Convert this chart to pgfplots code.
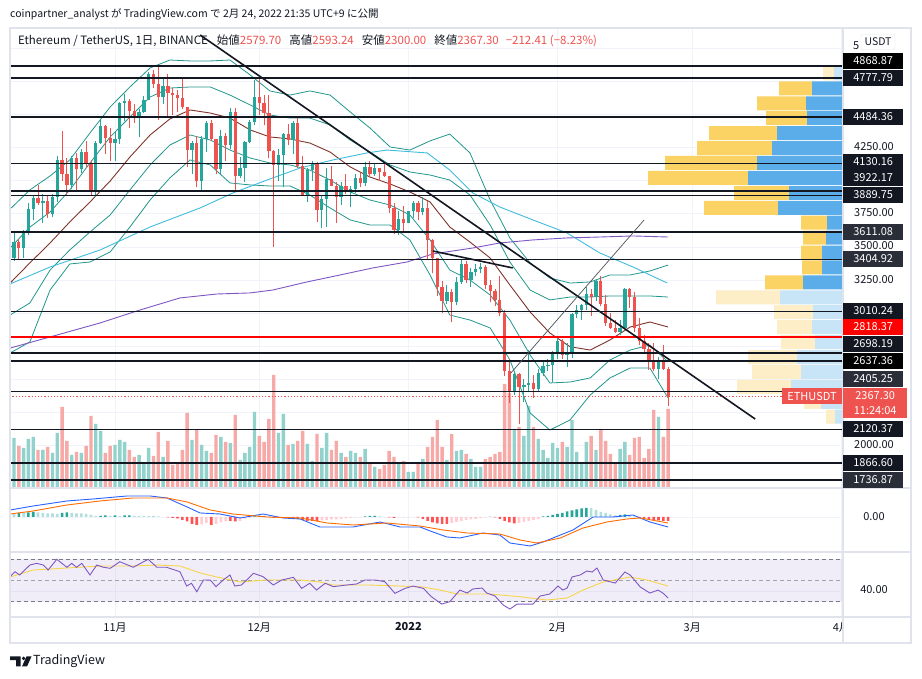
\documentclass[border=0pt]{standalone}
\usepackage{pgfplots}
\pgfplotsset{compat=1.18}
\usepackage{pgfplotstable}
\usepgfplotslibrary{fillbetween}
\usepackage{fontspec}
\setmainfont{Noto Sans CJK JP}
\definecolor{tvg}{RGB}{38,166,154}
\definecolor{tvr}{RGB}{239,83,80}
\definecolor{volg}{RGB}{146,210,204}
\definecolor{volr}{RGB}{247,169,168}
\definecolor{tvdark}{RGB}{19,23,34}
\definecolor{tvdark2}{RGB}{42,46,57}
\definecolor{gridc}{RGB}{240,243,250}
\definecolor{framec}{RGB}{224,227,235}
\definecolor{bbline}{RGB}{34,150,140}
\definecolor{bbmid}{RGB}{128,52,42}
\definecolor{macyan}{RGB}{64,188,222}
\definecolor{mapurple}{RGB}{126,87,194}
\definecolor{vpy}{RGB}{251,211,100}
\definecolor{vpb}{RGB}{91,173,234}
\definecolor{vpyl}{RGB}{253,238,199}
\definecolor{vpbl}{RGB}{200,228,247}
\definecolor{macdb}{RGB}{41,98,255}
\definecolor{macdo}{RGB}{255,109,0}
\definecolor{hdg}{RGB}{38,166,154}
\definecolor{hlg}{RGB}{178,223,219}
\definecolor{hdr}{RGB}{255,82,82}
\definecolor{hlr}{RGB}{255,205,210}
\definecolor{rsima}{RGB}{247,213,74}
\definecolor{dashc}{RGB}{120,123,134}

\pgfplotstableread{
d o h l c v
-21 3415 3610 3390 3541 500
-19 3491 3630 3420 3605 400
-18 3605 3830 3590 3788 490
-17 3788 3890 3700 3868 510
-15 3830 3900 3680 3847 380
-13 3747 3900 3725 3877 350
-12 3877 4190 3840 4154 550
-9 3972 4190 3940 4170 330
-7 4086 4240 4060 4217 350
-4 3923 4300 3880 4287 640
-3 4287 4460 4280 4415 570
0 4288 4380 4150 4319 430
1 4319 4600 4280 4586 480
2 4586 4660 4450 4604 460
5 4476 4540 4330 4518 330
6 4518 4640 4510 4612 250
7 4612 4825 4610 4806 400
10 4633 4780 4580 4721 310
16 4235 4300 4050 4284 480
18 3996 4340 3920 4316 430
19 4316 4450 4220 4434 370
22 4088 4385 4050 4339 510
24 4272 4550 4240 4522 450
26 4040 4180 4020 4097 280
27 4097 4300 3990 4291 350
28 4291 4460 4290 4443 410
29 4443 4760 4420 4631 760
34 4121 4240 4000 4196 550
35 4196 4360 3950 4353 740
37 4308 4450 4200 4436 440
40 3895 4100 3840 4079 440
41 4079 4150 4000 4132 270
43 3783 3885 3640 3860 400
44 3860 4095 3650 4015 550
47 3876 3990 3820 3960 350
49 3923 3960 3800 3941 370
50 3941 4050 3910 4020 350
52 3980 4140 3960 4108 390
54 4048 4130 4040 4096 210
59 3627 3770 3590 3712 250
61 3682 3770 3680 3769 160
62 3769 3850 3720 3829 160
64 3761 3880 3740 3794 290
69 3091 3210 3070 3157 280
71 3083 3270 3060 3238 370
72 3238 3410 3220 3372 380
74 3248 3340 3200 3310 290
75 3310 3370 3280 3330 210
76 3330 3380 3300 3350 210
83 2405 2560 2380 2539 590
85 2441 2500 2330 2459 520
86 2459 2724 2400 2467 820
88 2426 2580 2400 2548 490
89 2548 2630 2520 2602 380
90 2602 2650 2560 2606 300
91 2606 2710 2480 2688 450
92 2688 2810 2650 2790 400
94 2683 2770 2590 2698 410
95 2698 3000 2660 2990 680
96 2990 3060 2960 3024 360
97 3024 3070 2950 3059 250
98 3059 3200 3020 3144 460
100 3124 3260 3090 3243 380
105 2860 2950 2830 2890 390
106 2890 3190 2880 3182 460
113 2575 2670 2500 2640 710
}\upT

\pgfplotstableread{
d o h l c v
-20 3541 3560 3410 3491 420
-16 3868 3965 3820 3830 380
-14 3847 3890 3720 3747 410
-11 4154 4375 4000 4055 810
-10 4055 4170 3890 3972 470
-8 4170 4210 3930 4086 360
-6 4217 4300 4100 4131 420
-5 4131 4155 3890 3923 720
-2 4415 4420 4200 4324 350
-1 4324 4400 4150 4288 420
3 4604 4620 4400 4531 380
4 4531 4580 4440 4476 310
8 4806 4838 4700 4733 320
9 4733 4868.87 4460 4633 560
11 4721 4810 4490 4666 470
12 4666 4700 4500 4647 230
13 4647 4690 4520 4626 250
14 4626 4770 4540 4555 380
15 4555 4556 4106 4235 750
17 4284 4340 3950 3996 590
20 4434 4460 4300 4316 350
21 4316 4320 4050 4088 530
23 4339 4360 4150 4272 460
25 4522 4550 3920 4040 730
30 4631 4777.79 4500 4586 520
31 4586 4650 4420 4512 460
32 4512 4650 4170 4226 690
33 4226 4230 3500 4121 1130
36 4353 4430 4270 4308 430
38 4436 4490 4100 4111 470
39 4111 4190 3885 3895 570
42 4132 4140 3690 3783 540
45 4015 4110 3960 3961 380
46 3961 3990 3680 3876 470
48 3960 4050 3900 3923 310
51 4020 4060 3950 3980 310
53 4108 4150 4030 4048 240
55 4096 4100 4000 4064 190
56 4064 4130 4030 4037 230
57 4037 4040 3760 3794 370
58 3794 3830 3600 3627 310
60 3712 3810 3620 3682 270
63 3829 3850 3700 3761 240
65 3794 3850 3400 3550 410
66 3550 3560 3300 3417 510
67 3417 3420 3130 3194 680
68 3194 3240 3000 3091 410
70 3157 3180 2930 3083 540
73 3372 3390 3230 3248 340
77 3350 3360 3180 3212 290
78 3212 3250 3080 3163 310
79 3163 3180 3050 3095 340
80 3095 3280 2980 3000 360
81 3000 3020 2520 2562 1040
82 2562 2650 2320 2405 950
84 2539 2550 2159 2441 610
87 2467 2530 2360 2426 610
93 2790 2800 2650 2683 460
99 3144 3180 2980 3124 520
101 3243 3280 3050 3070 590
102 3070 3140 2900 2925 470
103 2925 3000 2880 2890 340
104 2890 2950 2850 2860 250
107 3182 3190 3040 3123 330
108 3123 3160 2860 2889 500
109 2889 2960 2760 2787 510
110 2787 2830 2700 2730 300
111 2730 2770 2570 2627 390
112 2627 2770 2560 2575 780
114 2640 2760 2570 2579.70 510
115 2579.70 2593.24 2300 2367.30 790
}\dnT

\pgfplotstableread{
p sb sy lb ly
4812.4 0 0 9 11
4699.5 31 33 0 0
4586.6 37 49 0 0
4473.7 36 41 0 0
4360.8 66 68 0 0
4247.9 71 75 0 0
4135.0 86 92 0 0
4022.1 95 100 0 0
3909.2 54 55 0 0
3796.3 65 74 0 0
3683.4 16 26 0 0
3570.5 17 23 0 0
3457.6 21 21 0 0
3344.7 21 20 0 0
3231.8 40 38 0 0
3118.9 0 0 63 64
3006.0 0 0 30 39
2893.1 0 0 31 35
2780.2 0 0 28 34
2667.3 0 0 46 49
2554.4 0 0 42 49
2441.5 0 0 52 54
2328.6 0 0 22 17
2215.7 0 0 8 9
}\vpT

\pgfplotsset{tvbase/.style={scale only axis, anchor=south west, width=833pt, xmin=-21.83, xmax=151.35},
 candle/.style={only marks, mark=*, mark size=0pt, mark options={draw=none, fill=none}}}
\tikzset{plab/.style={fill=tvdark, text=white, minimum width=60pt, minimum height=16pt, inner sep=0pt, font=\fontsize{11}{12}\selectfont, anchor=west},
 nlab/.style={text=tvdark, inner sep=0pt, font=\fontsize{11}{12}\selectfont}}

\begin{document}
\begin{tikzpicture}[x=1pt,y=1pt]
\fill[white] (0,0) rectangle (922,679);
% grid
\begin{axis}[tvbase, at={(10pt,191pt)}, height=460pt, ymin=1676.4, ymax=5156.3,
  xtick={0,30,61,92,120,151}, ytick={2000,2250,...,5000},
  xticklabel=\empty, yticklabel=\empty, tick style={draw=none},
  axis line style={draw=none}, grid=major, grid style={gridc, line width=0.8pt}]
\addplot[draw=none] coordinates {(0,3000)};
\end{axis}
% volume profile
\begin{axis}[at={(10pt,191pt)}, scale only axis, anchor=south west, width=833pt, height=460pt,
  xmin=0, xmax=833, x dir=reverse, ymin=1676.4, ymax=5156.3, hide axis, xbar stacked, bar width=14pt]
\addplot[fill=vpb, draw=none] table[x=sb, y=p]{\vpT};
\addplot[fill=vpy, draw=none] table[x=sy, y=p]{\vpT};
\addplot[fill=vpbl, draw=none] table[x=lb, y=p]{\vpT};
\addplot[fill=vpyl, draw=none] table[x=ly, y=p]{\vpT};
\end{axis}
% volume
\begin{axis}[tvbase, at={(10pt,191pt)}, height=460pt, ymin=0, ymax=4600, hide axis]
\addplot[ybar, bar width=3.4pt, bar shift=0pt, fill=volg, draw=none] table[x=d, y=v]{\upT};
\addplot[ybar, bar width=3.4pt, bar shift=0pt, fill=volr, draw=none] table[x=d, y=v]{\dnT};
\end{axis}
% price
\begin{axis}[tvbase, at={(10pt,191pt)}, height=460pt, ymin=1676.4, ymax=5156.3, hide axis, clip=true]
\addplot[name path=OU, bbline, line width=0.8pt] coordinates {(-21.8,3787) (-17.7,3931) (-13.5,4037) (-9.4,4158) (-5.2,4362) (-1.0,4559) (3.1,4710) (7.3,4854) (11.4,4914) (15.6,4907) (19.8,4907) (23.9,4914) (28.1,4801) (32.2,4680) (36.4,4649) (40.5,4680) (44.7,4649) (48.9,4521) (53.0,4400) (57.2,4256) (61.3,4233) (65.5,4302) (69.6,4354) (73.8,4211) (78.0,3855) (82.1,3568) (86.3,3379) (90.4,3265) (94.6,3227) (98.8,3235) (102.9,3288) (107.1,3288) (111.2,3318) (115.0,3363)};
\addplot[name path=IU, bbline, line width=0.8pt] coordinates {(-21.8,3492) (-17.7,3650) (-13.5,3764) (-9.4,3931) (-5.2,4135) (-1.0,4332) (3.1,4483) (7.3,4634) (11.4,4702) (15.6,4710) (19.8,4710) (23.9,4649) (28.1,4574) (32.2,4498) (36.4,4475) (40.5,4475) (44.7,4423) (48.9,4309) (53.0,4218) (57.2,4120) (61.3,4067) (65.5,4044) (69.6,4006) (73.8,3893) (78.0,3666) (82.1,3386) (86.3,3174) (90.4,3099) (94.6,3121) (98.8,3121) (102.9,3129) (107.1,3129) (111.2,3129) (115.0,3121)};
\addplot[name path=IL, bbline, line width=0.8pt] coordinates {(-21.8,2985) (-17.7,3076) (-13.5,3325) (-9.4,3477) (-5.2,3613) (-1.0,3742) (3.1,3931) (7.3,4120) (11.4,4271) (15.6,4347) (19.8,4309) (23.9,4233) (28.1,4173) (32.2,4135) (36.4,4120) (40.5,4082) (44.7,4006) (48.9,3916) (53.0,3855) (57.2,3817) (61.3,3742) (65.5,3553) (69.6,3325) (73.8,3250) (78.0,3136) (82.1,2947) (86.3,2683) (90.4,2471) (94.6,2478) (98.8,2509) (102.9,2645) (107.1,2720) (111.2,2758) (115.0,2629)};
\addplot[name path=OL, bbline, line width=0.8pt] coordinates {(-21.8,2698) (-17.7,2781) (-13.5,3174) (-9.4,3371) (-5.2,3386) (-1.0,3462) (3.1,3651) (7.3,3855) (11.4,4022) (15.6,4158) (19.8,4120) (23.9,3984) (28.1,3969) (32.2,3961) (36.4,3961) (40.5,3893) (44.7,3795) (48.9,3704) (53.0,3666) (57.2,3666) (61.3,3553) (65.5,3288) (69.6,2985) (73.8,2947) (78.0,2887) (82.1,2645) (86.3,2244) (90.4,2115) (94.6,2191) (98.8,2380) (102.9,2509) (107.1,2584) (111.2,2584) (115.0,2357)};
\addplot[fill=tvg, fill opacity=0.06, draw=none] fill between[of=OU and OL];
\addplot[fill=tvg, fill opacity=0.06, draw=none] fill between[of=IU and IL];
\addplot[bbmid, line width=0.9pt] coordinates {(-21.8,3227) (-17.7,3379) (-13.5,3530) (-9.4,3689) (-5.2,3840) (-1.0,3999) (3.1,4180) (7.3,4347) (11.4,4468) (15.6,4536) (19.8,4513) (23.9,4475) (28.1,4385) (32.2,4332) (36.4,4317) (40.5,4286) (44.7,4218) (48.9,4105) (53.0,4029) (57.2,3976) (61.3,3916) (65.5,3840) (69.6,3651) (73.8,3537) (78.0,3416) (82.1,3212) (86.3,3008) (90.4,2849) (94.6,2745) (98.8,2720) (102.9,2796) (107.1,2894) (111.2,2932) (115.0,2894)};
\addplot[macyan, line width=0.9pt] coordinates {(-21.8,3220) (-13.5,3348) (-3.1,3477) (7.3,3651) (17.7,3795) (24.5,3908) (31.6,4006) (38.5,4097) (45.3,4158) (52.4,4211) (56.5,4233) (64.9,4211) (69.6,4082) (74.4,3908) (80.0,3802) (86.9,3704) (94.0,3605) (100.8,3454) (107.7,3348) (114.8,3227)};
\addplot[mapurple, line width=0.9pt] coordinates {(-21.8,2735) (-13.5,2819) (-3.1,2925) (5.2,3023) (13.5,3114) (21.2,3144) (28.1,3152) (32.8,3174) (39.9,3235) (46.8,3288) (53.6,3341) (60.7,3386) (66.1,3447) (74.4,3492) (80.0,3530) (86.9,3553) (94.0,3568) (100.8,3575) (107.7,3583) (115,3575)};
% candles
\addplot[candle, error bars/.cd, y dir=plus, y explicit, error mark=none, error bar style={draw=tvg, line width=0.9pt}] table[x=d, y=l, y error plus expr=\thisrow{h}-\thisrow{l}]{\upT};
\addplot[candle, error bars/.cd, y dir=plus, y explicit, error mark=none, error bar style={draw=tvr, line width=0.9pt}] table[x=d, y=l, y error plus expr=\thisrow{h}-\thisrow{l}]{\dnT};
\addplot[candle, error bars/.cd, y dir=plus, y explicit, error mark=none, error bar style={draw=tvg, line width=3.3pt}] table[x=d, y=o, y error plus expr=\thisrow{c}-\thisrow{o}]{\upT};
\addplot[candle, error bars/.cd, y dir=plus, y explicit, error mark=none, error bar style={draw=tvr, line width=3.3pt}] table[x=d, y=c, y error plus expr=\thisrow{o}-\thisrow{c}]{\dnT};
% horizontal levels
\addplot[tvdark, line width=1.6pt] coordinates {(-22,4868.87) (152,4868.87)};
\addplot[tvdark, line width=1.6pt] coordinates {(-22,4777.79) (152,4777.79)};
\addplot[tvdark, line width=1.6pt] coordinates {(-22,4484.36) (152,4484.36)};
\addplot[tvdark, line width=1.6pt] coordinates {(-22,4130.16) (152,4130.16)};
\addplot[tvdark, line width=1.6pt] coordinates {(-22,3922.17) (152,3922.17)};
\addplot[tvdark, line width=1.6pt] coordinates {(-22,3889.75) (152,3889.75)};
\addplot[tvdark, line width=1.6pt] coordinates {(-22,3611.08) (152,3611.08)};
\addplot[tvdark, line width=1.6pt] coordinates {(-22,3404.92) (152,3404.92)};
\addplot[tvdark, line width=1.6pt] coordinates {(-22,3010.24) (152,3010.24)};
\addplot[red, line width=1.8pt] coordinates {(-22,2818.37) (152,2818.37)};
\addplot[tvdark, line width=1.6pt] coordinates {(-22,2698.19) (152,2698.19)};
\addplot[tvdark, line width=1.6pt] coordinates {(-22,2637.36) (152,2637.36)};
\addplot[tvdark, line width=1.6pt] coordinates {(-22,2405.25) (152,2405.25)};
\addplot[tvdark, line width=1.6pt] coordinates {(-22,2120.37) (152,2120.37)};
\addplot[tvdark, line width=1.6pt] coordinates {(-22,1866.60) (152,1866.60)};
\addplot[tvdark, line width=1.6pt] coordinates {(-22,1736.87) (152,1736.87)};
\addplot[tvr, line width=0.8pt, dash pattern=on 1.2pt off 2pt] coordinates {(-22,2367.30) (152,2367.30)};
% trend lines
\addplot[tvdark, line width=1.6pt] coordinates {(17.7,5103) (133.1,2198)};
\addplot[tvdark, line width=1.6pt] coordinates {(66.1,3469) (82.7,3341)};
\addplot[tvdark!75, line width=0.7pt] coordinates {(82.3,2546) (110,3704)};
\end{axis}
% MACD
\begin{axis}[tvbase, at={(10pt,127pt)}, height=64pt, ymin=-350, ymax=290,
  xtick={0,30,61,92,120,151}, ytick={0}, xticklabel=\empty, yticklabel=\empty, tick style={draw=none},
  axis line style={draw=none}, grid=major, grid style={gridc, line width=0.8pt}]
\addplot[ybar, bar width=2.6pt, bar shift=0pt, fill=hdg, draw=none] coordinates {(-20,40) (-18,45) (-17,50) (-11,40) (-10,45) (-3,10) (-2,15) (0,15) (2,15) (3,15) (29,5) (30,10) (31,10) (52,5) (53,10) (54,10) (89,5) (90,10) (91,20) (92,30) (93,40) (94,55) (95,65) (96,75) (97,85) (98,90) (105,20) (106,25)};
\addplot[ybar, bar width=2.6pt, bar shift=0pt, fill=hlg, draw=none] coordinates {(-21,35) (-19,40) (-16,45) (-15,40) (-14,35) (-13,35) (-12,30) (-9,40) (-8,35) (-7,35) (-6,30) (-5,20) (-4,10) (-1,12) (1,12) (4,12) (5,10) (6,10) (7,8) (8,10) (9,5) (10,2) (32,5) (55,5) (56,2) (78,5) (99,90) (100,70) (101,50) (102,40) (103,25) (104,15) (107,15) (108,5)};
\addplot[ybar, bar width=2.6pt, bar shift=0pt, fill=hdr, draw=none] coordinates {(11,-5) (12,-10) (13,-15) (14,-30) (15,-45) (16,-70) (17,-80) (20,-80) (24,-40) (25,-45) (33,-10) (37,-10) (38,-20) (39,-30) (40,-40) (41,-40) (42,-40) (57,-5) (58,-10) (63,-5) (64,-20) (65,-40) (66,-55) (67,-65) (68,-70) (69,-70) (79,-5) (80,-20) (81,-40) (82,-55) (83,-65) (109,-10) (110,-15) (111,-25) (112,-30) (113,-35) (114,-40) (115,-40)};
\addplot[ybar, bar width=2.6pt, bar shift=0pt, fill=hlr, draw=none] coordinates {(18,-75) (19,-60) (21,-70) (22,-55) (23,-45) (26,-40) (27,-20) (28,-10) (34,-10) (35,-5) (36,-5) (43,-35) (44,-30) (45,-25) (46,-25) (47,-20) (48,-15) (49,-10) (50,-5) (51,-3) (59,-5) (60,-3) (61,-3) (62,-2) (70,-60) (71,-50) (72,-40) (73,-30) (74,-25) (75,-20) (76,-10) (77,-5) (84,-60) (85,-50) (86,-40) (87,-30) (88,-20)};
\addplot[macdb, line width=0.9pt] coordinates {(-21.8,70) (-17.0,110) (-10.0,160) (-4.6,180) (2.5,210) (7.3,210) (10.8,190) (15.0,100) (17.7,40) (21.8,30) (26.0,-10) (30.8,30) (34.9,-10) (38.5,-20) (42.6,-100) (45.3,-100) (49.5,-100) (55.1,-50) (59.3,-100) (63.4,-100) (66.1,-150) (69.0,-200) (71.7,-210) (76.5,-160) (80.0,-180) (82.1,-260) (86.3,-290) (89.0,-250) (92.6,-180) (95.2,-130) (99.4,0) (103.5,0) (107.7,20) (111.2,-50) (115,-100)};
\addplot[macdo, line width=0.9pt] coordinates {(-21.8,30) (-17.0,60) (-10.0,120) (-3.1,160) (3.7,190) (10.8,190) (15.0,150) (19.8,70) (24.5,30) (31.6,0) (38.5,-10) (44.1,-60) (49.5,-80) (56.5,-60) (63.4,-90) (68.2,-130) (73.2,-160) (80.0,-170) (84.2,-230) (87.7,-260) (92.6,-210) (97.3,-110) (102.3,-50) (106.4,-20) (109.2,-10) (115,-60)};
\end{axis}
% RSI
\begin{axis}[tvbase, at={(10pt,62pt)}, height=65pt, ymin=15.6, ymax=76.9,
  xtick={0,30,61,92,120,151}, xticklabels={11月,12月,\textbf{2022},2月,3月,4月},
  ytick={40}, yticklabel=\empty, tick style={draw=none},
  xticklabel style={font=\fontsize{11}{13}\selectfont, text=tvdark, yshift=-2pt},
  axis line style={draw=none}, grid=major, grid style={gridc, line width=0.8pt}]
\addplot[fill=mapurple, fill opacity=0.1, draw=none] coordinates {(-21.83,30) (151.35,30) (151.35,70) (-21.83,70)};
\addplot[dashc, line width=0.8pt, dash pattern=on 4pt off 3pt] coordinates {(-21.83,70) (151.35,70)};
\addplot[dashc!70, line width=0.8pt, dash pattern=on 4pt off 3pt] coordinates {(-21.83,50) (151.35,50)};
\addplot[dashc, line width=0.8pt, dash pattern=on 4pt off 3pt] coordinates {(-21.83,30) (151.35,30)};
\addplot[rsima, line width=0.9pt] coordinates {(-21.8,53.3) (-17.0,59.9) (-10.0,61.8) (-3.1,63.7) (3.7,63.7) (8.7,64.6) (13.5,63.7) (17.7,57.1) (21.2,53.3) (26.0,48.6) (31.6,50.5) (38.5,50.5) (42.6,48.6) (45.3,45.8) (52.4,45.8) (59.3,44.8) (64.0,43.9) (67.6,41.0) (71.1,37.3) (78.0,37.3) (84.8,34.4) (89.8,31.6) (94.0,33.5) (97.3,41.0) (101.5,48.6) (107.1,53.3) (110.6,50.5) (115.0,44.8)};
\addplot[mapurple, line width=0.9pt] coordinates {(-21.8,53.6) (-20.8,58.3) (-19.8,55.2) (-17.7,64.6) (-16.3,66.2) (-14.9,64.6) (-13.9,59.9) (-12.1,70.0) (-10.0,62.5) (-9.0,66.2) (-8.0,62.5) (-6.9,66.2) (-5.2,55.2) (-3.8,64.6) (-2.4,62.5) (-1.0,61.5) (1.0,67.7) (3.8,62.5) (6.9,70.0) (8.7,62.5) (10.7,62.5) (13.5,58.3) (14.9,44.8) (15.9,47.4) (17.0,39.4) (18.4,50.5) (19.8,50.5) (21.0,44.2) (22.5,50.5) (23.9,55.2) (24.9,44.8) (26.3,45.8) (28.8,56.8) (30.8,53.6) (32.9,45.8) (34.7,50.5) (37.1,53.0) (38.8,42.6) (40.5,47.4) (41.9,41.0) (43.7,47.4) (45.4,44.2) (48.2,45.8) (50.2,46.7) (52.0,50.5) (54.1,50.5) (56.1,48.9) (58.2,37.9) (60.3,42.6) (62.0,44.8) (64.1,42.6) (65.8,34.7) (67.9,27.8) (69.6,30.0) (71.7,41.0) (73.2,38.2) (74.4,42.0) (76.3,42.9) (77.3,38.2) (79.0,35.4) (80.7,26.9) (82.1,23.1) (83.6,27.8) (86.9,27.8) (88.4,35.4) (90.4,37.3) (92.1,44.8) (93.1,41.0) (94.0,42.9) (95.0,53.3) (96.7,55.2) (98.1,59.0) (99.2,58.0) (100.2,61.8) (101.5,50.5) (104.0,47.6) (106.0,58.0) (107.1,55.2) (109.2,43.9) (111.2,38.2) (112.9,41.0) (113.9,38.2) (115.0,33.5)};
\end{axis}
% frame
\fill[white] (843.8,37) rectangle (910.2,61.2);
\draw[framec, line width=1.5pt] (10,36) rectangle (911,651);
\draw[framec, line width=1.5pt] (10,191) -- (911,191);
\draw[framec, line width=1.5pt] (10,127) -- (911,127);
\draw[framec, line width=1.5pt] (10,62) -- (911,62);
\draw[framec, line width=1.5pt] (843,36) -- (843,651);
% plain price labels
\node[nlab, anchor=west] at (853,633) {5};
\node[nlab] at (874,532) {4250.00};
\node[nlab] at (874,466) {3750.00};
\node[nlab] at (874,433) {3500.00};
\node[nlab] at (874,399) {3250.00};
\node[nlab] at (874,234) {2000.00};
\node[nlab] at (874,162) {0.00};
\node[nlab] at (874,89) {40.00};
\node[fill=white, draw=framec, rounded corners=2pt, minimum width=34pt, minimum height=15pt, inner sep=0pt, text=tvdark, font=\fontsize{10.5}{12}\selectfont] at (878,637) {USDT};
% boxed price labels
\node[plab, fill=black] at (843,618) {4868.87};
\node[plab] at (843,601) {4777.79};
\node[plab] at (843,562) {4484.36};
\node[plab] at (843,517) {4130.16};
\node[plab] at (843,501) {3922.17};
\node[plab] at (843,484) {3889.75};
\node[plab, fill=tvdark2] at (843,447) {3611.08};
\node[plab, fill=tvdark2] at (843,420) {3404.92};
\node[plab] at (843,368) {3010.24};
\node[plab, fill=red] at (843,352) {2818.37};
\node[plab] at (843,335) {2698.19};
\node[plab, fill=black] at (843,318) {2637.36};
\node[plab, fill=tvdark2] at (843,300) {2405.25};
\node[plab, fill=tvr, minimum width=64pt, minimum height=30pt, align=center, font=\fontsize{11}{15}\selectfont] at (843,276) {2367.30\\11:24:04};
\node[plab] at (843,250) {2120.37};
\node[plab] at (843,216) {1866.60};
\node[plab, fill=tvdark2] at (843,199) {1736.87};
\node[fill=tvr, text=white, minimum width=60pt, minimum height=16pt, inner sep=0pt, font=\fontsize{11}{12}\selectfont] at (812,283) {ETHUSDT};
% header
\node[anchor=west, inner sep=0pt, text=tvdark, font=\fontsize{10.5}{12}\selectfont] at (10,665) {coinpartner\_analyst が TradingView.com で 2月 24, 2022 21:35 UTC+9 に公開};
\node[anchor=west, inner sep=0pt, text=tvdark, font=\fontsize{11.5}{13}\selectfont] at (18,638) {Ethereum / TetherUS, 1日, BINANCE\hspace{9pt}始値\textcolor{tvr}{2579.70}\hspace{8pt}高値\textcolor{tvr}{2593.24}\hspace{8pt}安値\textcolor{tvr}{2300.00}\hspace{8pt}終値\textcolor{tvr}{2367.30}\hspace{7pt}\textcolor{tvr}{−212.41 (−8.23\%)}};
% logo
\fill[tvdark] (10,22.5) -- (20.7,22.5) -- (20.7,12.5) -- (16.2,12.5) -- (16.2,18.8) -- (10,18.8) -- cycle;
\fill[tvdark] (23.6,20.6) circle (1.9);
\fill[tvdark] (26.5,22.5) -- (31.5,22.5) -- (27,12.5) -- (22,12.5) -- cycle;
\node[anchor=west, inner sep=0pt, text=tvdark, font=\fontsize{12.5}{14}\selectfont] at (33,17.5) {TradingView};
\end{tikzpicture}
\end{document}
